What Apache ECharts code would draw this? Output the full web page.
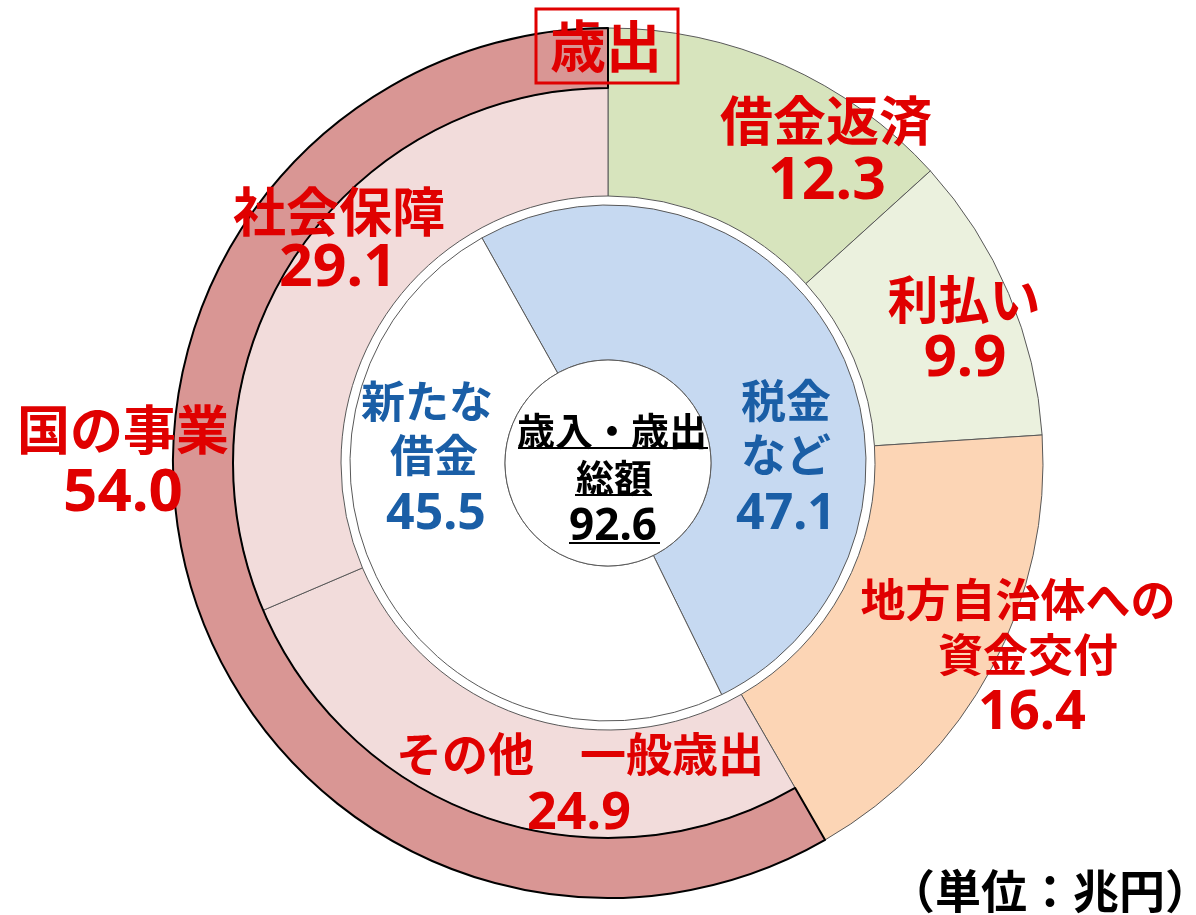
<!DOCTYPE html>
<html>
<head>
<meta charset="utf-8">
<script src="https://cdn.jsdelivr.net/npm/echarts@6/dist/echarts.min.js"></script>
<style>
html, body { margin: 0; padding: 0; background: #fff; }
#main { width: 1196px; height: 915px; }
</style>
</head>
<body>
<div id="main"></div>
<script>
// 歳出 (外側)
var outNames = ['借金返済', '利払い', '地方自治体への\n資金交付', 'その他　一般歳出', '社会保障'];
var outValues = [12.3, 9.9, 16.4, 24.9, 29.1];
var outColors = ['#D7E4BD', '#EBF1DE', '#FCD5B5', '#F2DCDB', '#F2DCDB'];
var kuniName = '国の事業';
var kuniValue = 54.0;
// 歳入 (内側)
var inNames = ['税金\nなど', '新たな\n借金'];
var inValues = [47.1, 45.5];
var inColors = ['#C6D9F1', '#FFFFFF'];
var totalValue = 92.6;

var RED = '#E00000';
var BLUE = '#1A5EA6';
var CJK = '"Noto Sans CJK JP", sans-serif';
var NUM = '"Noto Sans", sans-serif';
var cx = 608, cy = 463;

// ラベル配置: 各行の x, y, 文字サイズ, 数字サイズ
var outLabelLayout = [
	{ x: [826, 827], y: [121, 182], size: 53, num: 59 },
	{ x: [964, 965], y: [300, 359], size: 51, num: 58 },
	{ x: [1018, 1028, 1032], y: [600, 655, 714], size: 45, num: 54 },
	{ x: [580, 579], y: [754, 814], size: 46, num: 52 },
	{ x: [339, 338], y: [212, 269], size: 53, num: 59 }
];
var kuniLabelLayout = { x: [123, 123], y: [430, 494], size: 53, num: 60 };
var inLabelLayout = [
	{ x: [786, 786, 786], y: [401, 455, 515], size: 45, num: 50 },
	{ x: [427, 434, 436], y: [401, 455, 515], size: 44, num: 50 }
];

var myChart = echarts.init(document.getElementById('main'));

function blank(v) {
	return { value: v, itemStyle: { color: 'transparent', borderWidth: 0 } };
}

var rightSum = outValues[0] + outValues[1] + outValues[2];

var rightData = [];
for (var i = 0; i < 3; i++) {
	rightData.push({ name: outNames[i], value: outValues[i], itemStyle: { color: outColors[i] } });
}
rightData.push(blank(kuniValue));

var leftData = [blank(rightSum)];
for (var i = 3; i < 5; i++) {
	leftData.push({ name: outNames[i], value: outValues[i], itemStyle: { color: outColors[i] } });
}

var innerData = [];
for (var i = 0; i < inValues.length; i++) {
	innerData.push({ name: inNames[i], value: inValues[i], itemStyle: { color: inColors[i] } });
}

var base = {
	type: 'pie',
	center: [cx, cy],
	silent: true,
	clockwise: true,
	startAngle: 90,
	label: { show: false },
	labelLine: { show: false },
	emphasis: { disabled: true }
};

// テキスト
var graphics = [];
function text(str, x, y, font, color) {
	graphics.push({
		type: 'text',
		silent: true,
		z: 100,
		style: {
			text: str, x: x, y: y, fill: color, font: font,
			textAlign: 'center',
			textVerticalAlign: 'middle'
		}
	});
}
function label(name, value, lay, color) {
	var lines = name.split('\n');
	for (var k = 0; k < lines.length; k++) {
		text(lines[k], lay.x[k], lay.y[k], 'bold ' + lay.size + 'px ' + CJK, color);
	}
	var n = lines.length;
	text(value.toFixed(1), lay.x[n], lay.y[n], 'bold ' + lay.num + 'px ' + NUM, color);
}

for (var i = 0; i < outNames.length; i++) {
	label(outNames[i], outValues[i], outLabelLayout[i], RED);
}
label(kuniName, kuniValue, kuniLabelLayout, RED);
for (var i = 0; i < inNames.length; i++) {
	label(inNames[i], inValues[i], inLabelLayout[i], BLUE);
}
// 中心
text('歳入・歳出', 612, 431, 'bold 38px ' + CJK, '#000');
text('総額', 614, 478, 'bold 38px ' + CJK, '#000');
text(totalValue.toFixed(1), 613, 527, 'bold 44px ' + NUM, '#000');
var ul = [[518, 708, 448], [575, 652, 495], [569, 660, 543]];
for (var i = 0; i < ul.length; i++) {
	graphics.push({
		type: 'line', silent: true, z: 100,
		shape: { x1: ul[i][0], y1: ul[i][2], x2: ul[i][1], y2: ul[i][2] },
		style: { stroke: '#000', lineWidth: 2 }
	});
}
// 歳出タイトル
graphics.push({
	type: 'rect', silent: true, z: 100,
	shape: { x: 536, y: 9, width: 142, height: 74 },
	style: { fill: 'none', stroke: RED, lineWidth: 3 }
});
text('歳出', 606, 46, 'bold 56px ' + CJK, RED);
// 単位
text('（単位：兆円）', 1050, 891, 'bold 46px ' + CJK, '#000');

var option = {
	backgroundColor: '#fff',
	animation: false,
	series: [
		Object.assign({}, base, {
			name: 'right',
			radius: [267, 435],
			itemStyle: { borderColor: '#595959', borderWidth: 1 },
			data: rightData
		}),
		Object.assign({}, base, {
			name: 'left',
			radius: [267, 375],
			itemStyle: { borderColor: '#595959', borderWidth: 1 },
			data: leftData
		}),
		Object.assign({}, base, {
			name: 'kuni',
			radius: [375, 435],
			itemStyle: { borderColor: '#000', borderWidth: 2 },
			data: [blank(rightSum), { name: kuniName, value: kuniValue, itemStyle: { color: '#D99694' } }]
		}),
		Object.assign({}, base, {
			name: 'inner',
			radius: [103, 258],
			startAngle: 119.25,
			itemStyle: { borderColor: '#595959', borderWidth: 1 },
			data: innerData
		}),
		Object.assign({}, base, {
			name: 'center',
			radius: [0, 103],
			itemStyle: { color: '#fff', borderColor: '#595959', borderWidth: 1 },
			data: [{ name: 'total', value: totalValue }]
		})
	],
	graphic: graphics
};
myChart.setOption(option);
window.addEventListener('resize', function () {
	myChart.resize();
});
</script>
</body>
</html>
